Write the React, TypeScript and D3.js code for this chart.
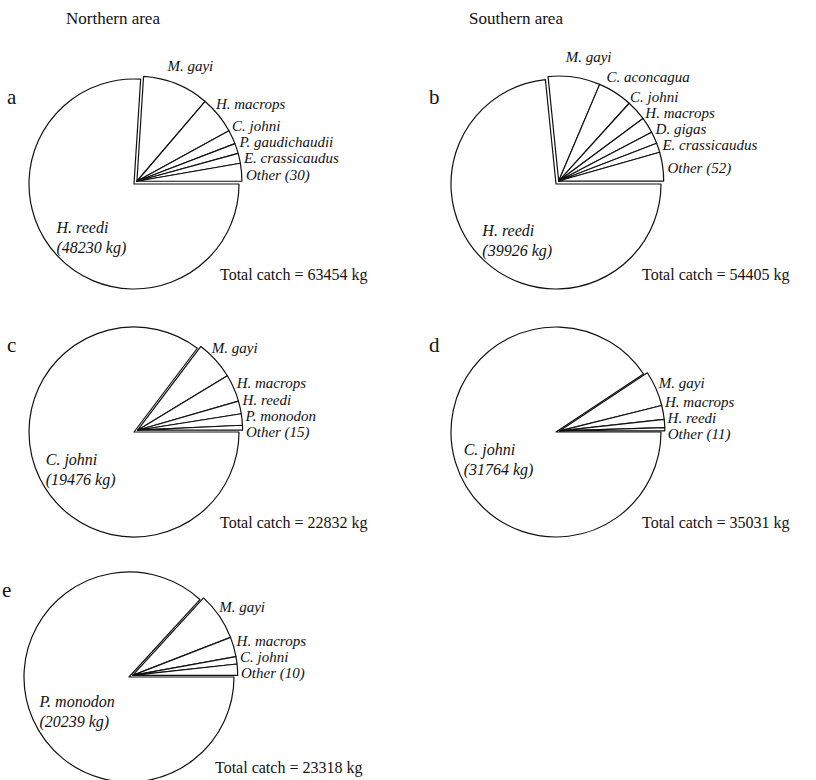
import * as d3 from 'd3'

// catch by species (kg), dominant species first, then the exploded group in drawing order
const aSpecies = ['H. reedi', 'M. gayi', 'H. macrops', 'C. johni', 'P. gaudichaudii', 'E. crassicaudus', 'Other (30)']
const aCatch = [48230, 6500, 3650, 1375, 985, 970, 1744]

const bSpecies = ['H. reedi', 'M. gayi', 'C. aconcagua', 'C. johni', 'H. macrops', 'D. gigas', 'E. crassicaudus', 'Other (52)']
const bCatch = [39926, 4352, 2902, 1693, 1345, 997, 786, 2404]

const cSpecies = ['C. johni', 'M. gayi', 'H. macrops', 'H. reedi', 'P. monodon', 'Other (15)']
const cCatch = [19476, 1376, 958, 450, 400, 172]

const dSpecies = ['C. johni', 'M. gayi', 'H. macrops', 'H. reedi', 'Other (11)']
const dCatch = [31764, 1907, 749, 438, 173]

const eSpecies = ['P. monodon', 'M. gayi', 'H. macrops', 'C. johni', 'Other (10)']
const eCatch = [20239, 1704, 706, 266, 403]

const areaTitles = ['Northern area', 'Southern area']

const W = 816
const H = 780
const R = 105
const EXPLODE = 4
const SERIF = "'Liberation Serif', 'DejaVu Serif', serif"

type PanelProps = { letter: string; names: string[]; values: number[]; cx: number; cy: number }

function PiePanel({ letter, names, values, cx, cy }: PanelProps) {
  const pie = d3.pie<number>()
    .sort(null)
    .startAngle(Math.PI / 2)
    .endAngle(Math.PI / 2 + 2 * Math.PI)
  const arcs = pie(values)
  const arc = d3.arc<d3.PieArcDatum<number>>().innerRadius(0).outerRadius(R)

  const main = arcs[0]
  const rest = arcs.slice(1)
  const gMid = (rest[0].startAngle + rest[rest.length - 1].endAngle) / 2
  const ox = Math.sin(gMid) * EXPLODE
  const oy = -Math.cos(gMid) * EXPLODE

  // natural label spots just outside the arc, then push up so they don't collide
  const mids = rest.map(d => (d.startAngle + d.endAngle) / 2)
  const ys = mids.map(a => cy + oy - Math.cos(a) * (R + 25) + 5)
  for (let i = ys.length - 2; i >= 0; i--) ys[i] = Math.min(ys[i], ys[i + 1] - 16)
  const xs = ys.map((y, i) => {
    const dy = y + 5 - cy
    const edge = cx + Math.sqrt(Math.max(0, (R + 3) ** 2 - dy * dy)) + 4
    return Math.max(edge, cx + R * Math.sin(mids[i]) - 6)
  })

  const am = (main.startAngle + main.endAngle) / 2
  const mx = cx + Math.sin(am) * R * 0.62
  const my = cy - Math.cos(am) * R * 0.62
  const total = d3.sum(values)

  return (
    <g style={{ fontFamily: SERIF }} fill="#111">
      <text x={cx - 127} y={cy - 80} fontSize={21}>{letter}</text>
      <g transform={`translate(${cx},${cy})`}>
        <path d={arc(main) ?? ''} fill="white" stroke="#111" strokeWidth={1.2} strokeLinejoin="round" />
        <g transform={`translate(${ox},${oy})`}>
          {rest.map((d, i) => (
            <path key={i} d={arc(d) ?? ''} fill="white" stroke="#111" strokeWidth={1.2} strokeLinejoin="round" />
          ))}
        </g>
      </g>
      {rest.map((d, i) => (
        <text key={i} x={xs[i]} y={ys[i] + 5} fontSize={15} fontStyle="italic">{names[i + 1]}</text>
      ))}
      <text x={mx - 30} y={my + 4} fontSize={16} fontStyle="italic">{names[0]}</text>
      <text x={mx - 30} y={my + 24} fontSize={16} fontStyle="italic">({values[0]} kg)</text>
      <text x={cx + 86} y={cy + 96} fontSize={16}>Total catch = {total} kg</text>
    </g>
  )
}

export default function App() {
  const colX = [134, 556]
  const rowY = [184, 432, 677]
  return (
    <svg width={W} height={H} style={{ position: 'absolute', left: 0, top: 0, display: 'block', background: 'white' }}>
      <g style={{ fontFamily: SERIF }} fontSize={17} fill="#111" textAnchor="middle">
        <text x={113} y={24}>{areaTitles[0]}</text>
        <text x={516} y={24}>{areaTitles[1]}</text>
      </g>
      <PiePanel letter="a" names={aSpecies} values={aCatch} cx={colX[0]} cy={rowY[0]} />
      <PiePanel letter="b" names={bSpecies} values={bCatch} cx={colX[1]} cy={rowY[0]} />
      <PiePanel letter="c" names={cSpecies} values={cCatch} cx={colX[0]} cy={rowY[1]} />
      <PiePanel letter="d" names={dSpecies} values={dCatch} cx={colX[1]} cy={rowY[1]} />
      <PiePanel letter="e" names={eSpecies} values={eCatch} cx={colX[0] - 5} cy={rowY[2]} />
    </svg>
  )
}
